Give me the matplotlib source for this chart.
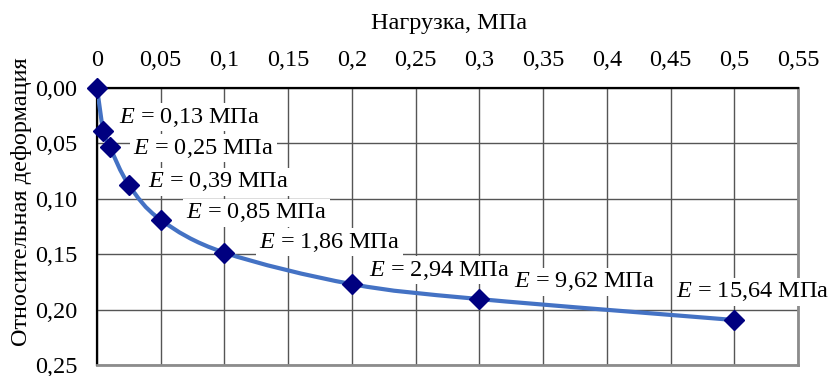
import numpy as np
import matplotlib
matplotlib.use("Agg")
import matplotlib.pyplot as plt
from matplotlib.path import Path
import matplotlib.patches as patches

plt.rcParams['font.family'] = ['Liberation Serif', 'DejaVu Serif']
plt.rcParams['mathtext.fontset'] = 'custom'
plt.rcParams['mathtext.rm'] = 'Liberation Serif'
plt.rcParams['mathtext.it'] = 'Liberation Serif:italic'

# load (MPa) vs relative strain
load = [0, 0.005, 0.01, 0.025, 0.05, 0.1, 0.2, 0.3, 0.5]
strain = [0.0, 0.0388, 0.053, 0.0875, 0.119, 0.1486, 0.177, 0.1905, 0.2094]
moduli = ['0,13', '0,25', '0,39', '0,85', '1,86', '2,94', '9,62', '15,64']

# label centres for each modulus text
lab_x = [0.0726, 0.0836, 0.0957, 0.1251, 0.1824, 0.2687, 0.3825, 0.5147]
lab_y = [0.0262, 0.0542, 0.0848, 0.1128, 0.139, 0.1643, 0.175, 0.1841]

x_ticks = [0, 0.05, 0.1, 0.15, 0.2, 0.25, 0.3, 0.35, 0.4, 0.45, 0.5, 0.55]
y_ticks = [0, 0.05, 0.10, 0.15, 0.20, 0.25]

FS = 17.5

fig = plt.figure(figsize=(8.31, 3.76), dpi=100)
ax = fig.add_axes([97/831, 1-365/376, 701/831, 277/376])


def smooth_path(xs, ys, t=0.5 / 3):
    # bezier segments with catmull-rom style handles
    pts = np.column_stack([xs, ys])
    n = len(pts)
    verts = [pts[0]]
    codes = [Path.MOVETO]
    for i in range(n - 1):
        p0 = pts[max(i - 1, 0)]
        p1 = pts[i]
        p2 = pts[i + 1]
        p3 = pts[min(i + 2, n - 1)]
        c1 = p1 + (p2 - p0) * t
        c2 = p2 - (p3 - p1) * t
        verts += [c1, c2, p2]
        codes += [Path.CURVE4] * 3
    return Path(verts, codes)


curve = patches.PathPatch(smooth_path(load, strain), fill=False,
                          edgecolor='#4472C4', lw=3, zorder=3,
                          capstyle='round', joinstyle='round')
ax.add_patch(curve)
ax.plot(load, strain, ls='none', marker='D', ms=10, color='#000080',
        zorder=5, clip_on=False)

for m, lx, ly in zip(moduli, lab_x, lab_y):
    ax.text(lx, ly, '$E$ = ' + m + ' МПа', fontsize=FS, ha='center', va='center',
            zorder=4, bbox=dict(facecolor='white', edgecolor='none', pad=2))

ax.set_xlim(0, 0.55)
ax.set_ylim(0.25, 0)
ax.set_xticks(x_ticks)
ax.set_yticks(y_ticks)
ax.set_xticklabels([('%g' % v).replace('.', ',') for v in x_ticks])
ax.set_yticklabels([('%.2f' % v).replace('.', ',') for v in y_ticks])
ax.xaxis.tick_top()
ax.tick_params(axis='both', length=0, labelsize=FS)
ax.tick_params(axis='x', pad=12)
ax.tick_params(axis='y', pad=14)
ax.grid(True, color='#555555', lw=1)
ax.set_axisbelow(True)

for side in ['left', 'top']:
    ax.spines[side].set_color('black')
    ax.spines[side].set_linewidth(1.6)
for side in ['right', 'bottom']:
    ax.spines[side].set_color('#8c8c8c')
    ax.spines[side].set_linewidth(2)

ax.xaxis.set_label_position('top')
ax.set_xlabel('Нагрузка, МПа', fontsize=FS)
ax.xaxis.label.set_verticalalignment('center')
ax.xaxis.set_label_coords((449-97)/701, 1 + (88-24)/277)
ax.set_ylabel('Относительная деформация', fontsize=FS)
ax.yaxis.label.set_verticalalignment('center')
ax.yaxis.set_label_coords(-(97-22)/701, (365-202)/277)

fig.savefig('out.png', dpi=100)
